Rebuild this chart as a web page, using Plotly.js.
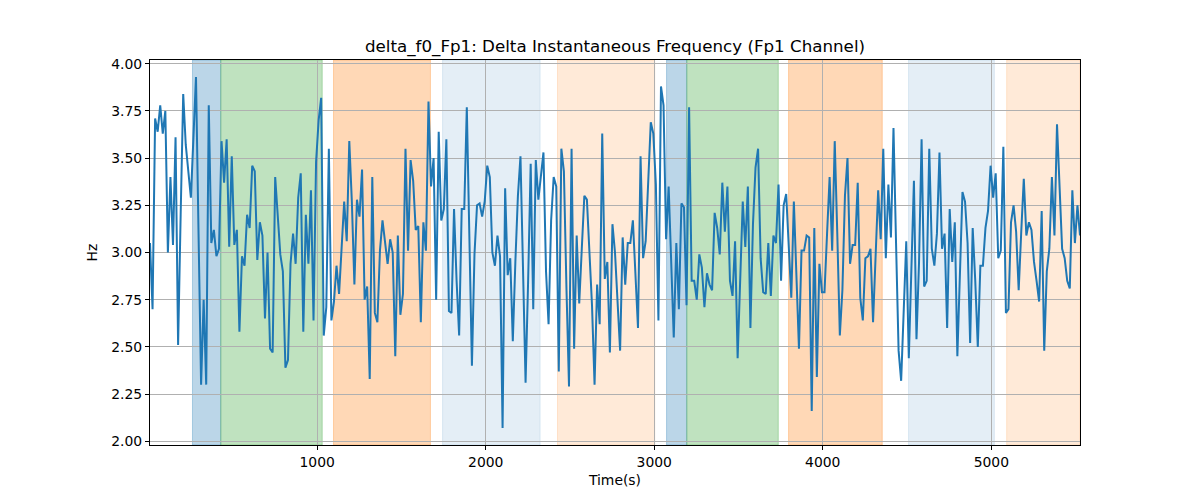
<!DOCTYPE html>
<html>
<head>
<meta charset="utf-8">
<script src="https://cdn.plot.ly/plotly-3.0.1.min.js"></script>
<style>html,body{margin:0;padding:0;background:#fff;}#chart{width:1200px;height:500px;}</style>
</head>
<body>
<div id="chart"></div>
<script>
// ---- data ----
const sampleStart = 8;        // seconds, time of first sample
const samplePeriod = 15.16;   // seconds between samples
const deltaF0 = [
  3.05, 2.70, 3.71, 3.64, 3.78, 3.63, 3.75, 3.00, 3.40, 3.04,
  3.61, 2.51, 3.20, 3.84, 3.57, 3.43, 3.29, 3.61, 3.93, 3.10,
  2.30, 2.75, 2.30, 3.78, 3.05, 3.12, 2.98, 3.02, 3.59, 3.37,
  3.60, 3.03, 3.51, 3.04, 3.12, 2.58, 2.98, 2.93, 3.20, 3.13,
  3.46, 3.43, 2.96, 3.16, 3.09, 2.65, 3.00, 2.49, 2.47, 3.40,
  3.22, 2.99, 2.90, 2.39, 2.43, 2.94, 3.10, 2.94, 3.29, 3.42,
  2.58, 3.20, 2.94, 3.33, 2.64, 3.48, 3.70, 3.82, 2.56, 2.71,
  3.55, 2.64, 2.74, 2.93, 2.78, 3.01, 3.27, 3.06, 3.59, 3.27,
  2.83, 3.28, 3.19, 3.44, 2.75, 2.82, 2.33, 3.40, 2.68, 2.63,
  3.01, 3.17, 3.06, 2.94, 3.07, 3.00, 2.45, 3.09, 2.67, 2.78,
  3.55, 3.01, 3.49, 3.38, 3.12, 3.14, 2.63, 3.16, 3.01, 3.80,
  3.35, 3.50, 2.75, 3.64, 3.17, 3.23, 3.60, 2.69, 2.68, 3.23,
  2.85, 2.56, 3.23, 3.23, 3.77, 3.08, 2.40, 2.99, 3.25, 3.26,
  3.19, 3.27, 3.46, 3.40, 3.00, 2.93, 3.09, 2.98, 2.07, 3.34,
  2.88, 2.97, 2.53, 2.95, 3.30, 3.51, 2.90, 2.31, 2.85, 3.47,
  2.70, 3.49, 3.28, 3.39, 3.53, 2.90, 2.62, 3.17, 3.40, 3.35,
  2.37, 3.55, 3.43, 2.81, 2.29, 3.55, 2.49, 3.09, 2.73, 3.02,
  3.30, 3.28, 3.02, 2.72, 2.30, 2.83, 2.62, 3.63, 2.86, 2.95,
  2.47, 3.15, 3.00, 2.75, 2.48, 3.08, 2.83, 3.05, 3.05, 3.17,
  2.85, 2.60, 3.51, 2.97, 3.06, 3.35, 3.69, 3.63, 3.36, 2.64,
  3.88, 3.78, 3.07, 3.35, 2.95, 2.55, 3.05, 2.70, 3.26, 3.24,
  2.72, 3.77, 2.85, 2.85, 2.75, 2.99, 2.92, 2.71, 2.89, 2.83,
  2.80, 3.21, 3.13, 2.99, 3.37, 3.11, 3.35, 2.85, 2.77, 3.06,
  2.44, 2.85, 3.27, 3.03, 3.35, 2.60, 3.15, 3.45, 3.55, 2.97,
  2.79, 2.78, 3.05, 2.77, 3.09, 3.05, 3.36, 2.85, 3.25, 3.31,
  3.00, 2.76, 3.27, 2.85, 2.49, 3.01, 3.01, 3.09, 3.08, 2.16,
  3.13, 2.34, 2.94, 2.79, 2.79, 3.10, 3.40, 3.01, 3.59, 3.10,
  2.56, 2.80, 3.30, 3.50, 2.94, 3.04, 3.04, 3.37, 2.76, 2.64,
  2.97, 2.98, 3.02, 2.63, 2.99, 3.33, 3.07, 3.55, 2.97, 3.36,
  3.08, 3.66, 3.05, 2.48, 2.32, 2.75, 3.06, 2.44, 2.95, 3.38,
  2.54, 2.95, 3.60, 2.82, 2.85, 3.55, 3.02, 2.93, 3.10, 3.53,
  3.02, 3.10, 2.60, 3.23, 2.95, 3.16, 2.45, 2.90, 3.32, 3.27,
  3.05, 2.52, 3.13, 2.85, 2.50, 2.93, 2.93, 3.13, 3.22, 3.46,
  3.29, 3.42, 2.97, 3.01, 3.56, 2.68, 2.70, 3.16, 3.25, 3.11,
  2.80, 3.11, 3.39, 3.09, 3.16, 3.12, 2.95, 2.85, 2.74, 3.22,
  2.48, 2.90, 3.02, 3.40, 3.09, 3.68, 3.31, 3.02, 2.97, 2.85,
  2.81, 3.33, 3.05, 3.25, 3.09
];
const regionStarts = [260, 428, 1097, 1744, 2426, 3073, 3193, 3797, 4509, 5091];
const regionEnds   = [428, 1030, 1672, 2323, 3003, 3193, 3736, 4353, 5018, 5526];
const regionKinds  = ['blue', 'green', 'orange', 'lightblue', 'lightorange',
                      'blue', 'green', 'orange', 'lightblue', 'lightorange'];
const yTickValues = [2.00, 2.25, 2.50, 2.75, 3.00, 3.25, 3.50, 3.75, 4.00];
const xTickValues = [1000, 2000, 3000, 4000, 5000];

// ---- styles ----
const kindStyle = {
  blue:        'rgba(31,119,180,0.30)',
  green:       'rgba(44,160,44,0.30)',
  orange:      'rgba(255,127,14,0.30)',
  lightblue:   'rgba(31,119,180,0.12)',
  lightorange: 'rgba(255,127,14,0.16)'
};

const times = deltaF0.map((_, i) => sampleStart + i * samplePeriod);
const xEnd = times[times.length - 1];

const shapes = regionStarts.map((s, k) => ({
  type: 'rect', xref: 'x', yref: 'paper',
  x0: s, x1: Math.min(regionEnds[k], xEnd), y0: 0, y1: 1,
  fillcolor: kindStyle[regionKinds[k]],
  line: {color: kindStyle[regionKinds[k]], width: 1},
  layer: 'between'
}));

const font = {family: 'DejaVu Sans, sans-serif', size: 13.9, color: '#000'};

const trace = {
  x: times, y: deltaF0, type: 'scatter', mode: 'lines',
  line: {color: '#1f77b4', width: 2},
  hoverinfo: 'x+y'
};

const axisCommon = {
  showline: true, mirror: true, linecolor: '#000', linewidth: 1,
  ticks: 'outside', ticklen: 4, tickwidth: 1, tickcolor: '#000',
  showgrid: true, gridcolor: '#b0b0b0', gridwidth: 1,
  zeroline: false, tickfont: font
};

const layout = {
  width: 1200, height: 500,
  margin: {l: 150, r: 120, t: 60, b: 55, pad: 0},
  paper_bgcolor: '#fff', plot_bgcolor: '#fff',
  showlegend: false,
  font: font,
  title: {
    text: 'delta_f0_Fp1: Delta Instantaneous Frequency (Fp1 Channel)',
    font: {family: 'DejaVu Sans, sans-serif', size: 16.7, color: '#000'},
    xref: 'paper', x: 0.5, xanchor: 'center',
    yref: 'container', y: 1 - 46 / 500, yanchor: 'middle'
  },
  xaxis: Object.assign({}, axisCommon, {
    range: [sampleStart, xEnd],
    tickmode: 'array', tickvals: xTickValues,
    ticktext: xTickValues.map(String),
    title: {text: 'Time(s)', font: font, standoff: 6}
  }),
  yaxis: Object.assign({}, axisCommon, {
    range: [1.98, 4.02],
    tickmode: 'array', tickvals: yTickValues,
    ticktext: yTickValues.map(v => v.toFixed(2)),
    title: {text: 'Hz', font: font, standoff: 10}
  }),
  shapes: shapes
};

Plotly.newPlot('chart', [trace], layout, {displayModeBar: false, staticPlot: true});
</script>
</body>
</html>
